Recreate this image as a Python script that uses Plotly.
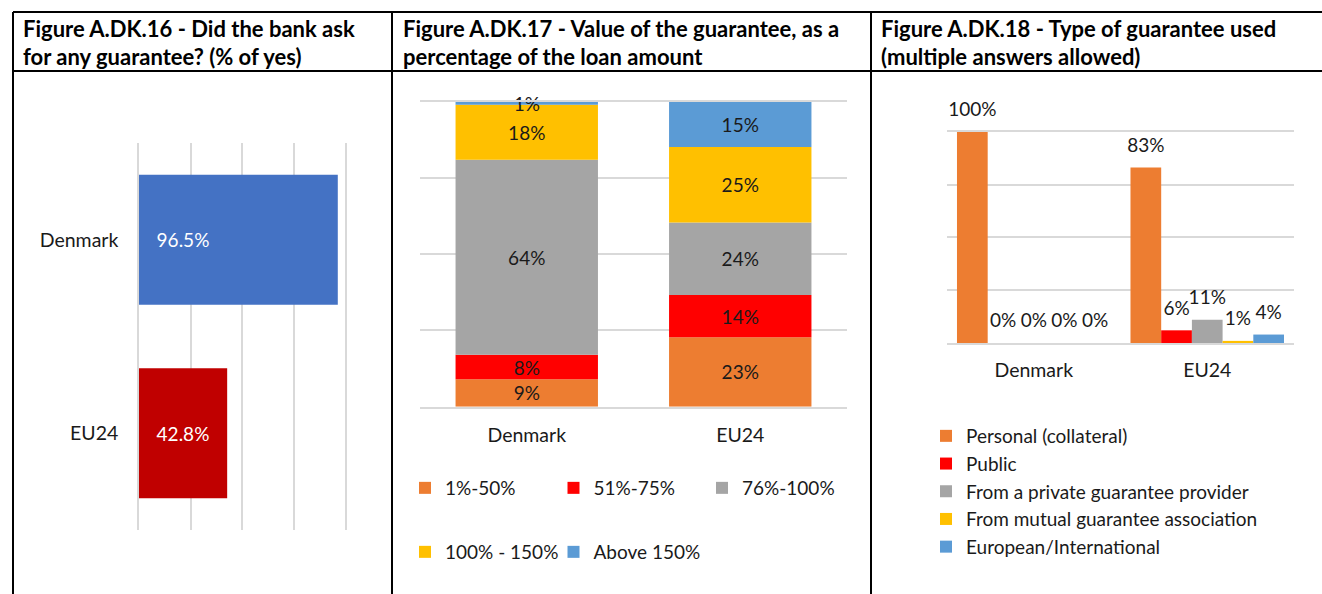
import plotly.graph_objects as go

W, H = 1322, 594

# ---------------- data ----------------
countries = ["Denmark", "EU24"]

# Figure A.DK.16 - % of yes
asked_guarantee = [96.5, 42.8]

# Figure A.DK.17 - value of guarantee as % of loan amount (shares per country)
value_bands = ["1%-50%", "51%-75%", "76%-100%", "100% - 150%", "Above 150%"]
value_denmark = [9, 8, 64, 18, 1]
value_eu24 = [23, 14, 24, 25, 15]

# Figure A.DK.18 - type of guarantee used
guarantee_types = ["Personal (collateral)", "Public", "From a private guarantee provider",
                   "From mutual guarantee association", "European/International"]
type_denmark = [100, 0, 0, 0, 0]
type_eu24 = [83, 6, 11, 1, 4]

# ---------------- styles ----------------
FONT = "Lato"
TXT = "#1a1a1a"
GRID = "#d9d9d9"
bar16_colors = ["#4472C4", "#C00000"]
series_colors = ["#ED7D31", "#FF0000", "#A5A5A5", "#FFC000", "#5B9BD5"]
LABEL_SIZE = 19
TICK_SIZE = 19.5
LEGEND_SIZE = 19


def px(x):
    return x / W


def py(y):
    return 1 - y / H


fig = go.Figure()

# ---------- Panel 1 ----------
fig.add_trace(go.Bar(
    y=countries, x=asked_guarantee, orientation="h",
    marker=dict(color=bar16_colors, line=dict(width=0)),
    width=0.672, offset=-0.336,
    text=["\u00a0\u00a0\u00a0" + f"{v:.1f}%" for v in asked_guarantee],
    textposition="inside", insidetextanchor="start",
    textfont=dict(family=FONT, size=LABEL_SIZE, color="white"),
    showlegend=False, xaxis="x", yaxis="y", hoverinfo="x+y",
))

# ---------- Panel 2 ----------
tot_dk = sum(value_denmark)
tot_eu = sum(value_eu24)
base_dk, base_eu = 0.0, 0.0
for i, name in enumerate(value_bands):
    sh_dk = value_denmark[i] / tot_dk * 100
    sh_eu = value_eu24[i] / tot_eu * 100
    fig.add_trace(go.Bar(
        x=countries, y=[sh_dk, sh_eu], base=[base_dk, base_eu],
        name=name, marker=dict(color=series_colors[i], line=dict(width=0)),
        width=0.667, offset=-0.3335,
        text=[f"{value_denmark[i]}%", f"{value_eu24[i]}%"],
        textposition="inside", insidetextanchor="middle", constraintext="none",
        textfont=dict(family=FONT, size=LABEL_SIZE, color=TXT), cliponaxis=False,
        xaxis="x2", yaxis="y2",
        legend="legend2" if i < 3 else "legend3",
    ))
    base_dk += sh_dk
    base_eu += sh_eu

# ---------- Panel 3 ----------
for i, name in enumerate(guarantee_types):
    vals = [type_denmark[i], type_eu24[i]]
    fig.add_trace(go.Bar(
        x=countries, y=vals, name=name, offsetgroup=str(i),
        marker=dict(color=series_colors[i], line=dict(width=0)),
        xaxis="x3", yaxis="y3", legend="legend4",
    ))
    fig.add_trace(go.Scatter(
        x=countries, y=vals, offsetgroup=str(i), mode="markers+text",
        marker=dict(size=16, opacity=0),
        text=[f"{v}%" for v in vals], textposition="top center",
        textfont=dict(family=FONT, size=LABEL_SIZE, color=TXT),
        cliponaxis=False, showlegend=False, hoverinfo="skip",
        xaxis="x3", yaxis="y3",
    ))

# ---------- axes ----------
tickfont = dict(family=FONT, size=TICK_SIZE, color=TXT)
legfont = dict(family=FONT, size=LEGEND_SIZE, color=TXT)
fig.update_layout(
    width=W, height=H, margin=dict(l=0, r=0, t=0, b=0),
    paper_bgcolor="white", plot_bgcolor="white",
    font=dict(family=FONT, size=16, color=TXT),
    barmode="group", bargap=0.115, bargroupgap=0,
    scattermode="group", scattergap=0.115,
    xaxis=dict(domain=[px(139), px(345)], range=[0, 100], dtick=25,
               showgrid=True, gridcolor=GRID, gridwidth=1.5, zeroline=False,
               showticklabels=False, ticks="", fixedrange=True),
    yaxis=dict(domain=[py(530), py(143)], autorange="reversed", anchor="x",
               showline=True, mirror=True, linecolor=GRID, linewidth=1.5,
               showgrid=False, zeroline=False, ticks="", tickfont=tickfont,
               ticklabelstandoff=15),
    xaxis2=dict(domain=[px(420), px(847)], anchor="y2", showgrid=False,
                showline=True, mirror=True, linecolor=GRID, linewidth=1.5,
                zeroline=False, ticks="", tickfont=tickfont, ticklabelstandoff=10),
    yaxis2=dict(domain=[py(406.7), py(101.7)], anchor="x2", range=[0, 100], dtick=25,
                showgrid=True, gridcolor=GRID, gridwidth=1.5, zeroline=False,
                showticklabels=False, ticks=""),
    xaxis3=dict(domain=[px(947), px(1294)], anchor="y3", showgrid=False,
                showline=True, mirror=True, linecolor=GRID, linewidth=1.5,
                zeroline=False, ticks="", tickfont=tickfont, ticklabelstandoff=9),
    yaxis3=dict(domain=[py(343), py(131.7)], anchor="x3", range=[0, 100], dtick=25,
                showgrid=True, gridcolor=GRID, gridwidth=1.5, zeroline=False,
                showticklabels=False, ticks=""),
    legend2=dict(orientation="h", x=px(405), xanchor="left", y=py(488), yanchor="middle",
                 entrywidth=103.5, entrywidthmode="pixels", font=legfont,
                 bgcolor="rgba(0,0,0,0)"),
    legend3=dict(orientation="h", x=px(405), xanchor="left", y=py(552), yanchor="middle",
                 entrywidth=103.5, entrywidthmode="pixels", font=legfont,
                 bgcolor="rgba(0,0,0,0)"),
    legend4=dict(orientation="v", x=px(926), xanchor="left", y=py(417), yanchor="top",
                 traceorder="normal", font=legfont, bgcolor="rgba(0,0,0,0)"),
)

# ---------- table lines ----------
line = dict(color="black", width=2)
for (x0, y0, x1, y1) in [(13, 12, W, 12), (13, 71, W, 71), (13, 12, 13, H),
                         (392, 12, 392, H), (871, 12, 871, H)]:
    fig.add_shape(type="line", xref="paper", yref="paper",
                  x0=px(x0), y0=py(y0), x1=px(x1), y1=py(y1), line=line)

# ---------- headers ----------
headers = [
    (21, ["Figure A.DK.16 - Did the bank ask", "for any guarantee? (% of yes)"]),
    (401, ["Figure A.DK.17 - Value of the guarantee, as a", "percentage of the loan amount"]),
    (879, ["Figure A.DK.18 - Type of guarantee used", "(multiple answers allowed)"]),
]
for x, lines in headers:
    for j, t in enumerate(lines):
        fig.add_annotation(xref="paper", yref="paper", x=px(x), y=py(28 + 28 * j),
                           xanchor="left", yanchor="middle", showarrow=False,
                           text=f"<b>{t}</b>", font=dict(family=FONT, size=22, color="black"))

fig.write_html(
    "out.html",
    config={"displayModeBar": False},
    post_script="document.body.style.margin='0';document.body.style.overflow='hidden';",
)
